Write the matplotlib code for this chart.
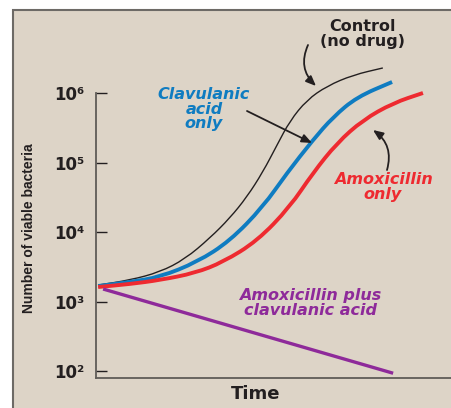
import numpy as np
import matplotlib
matplotlib.use("Agg")
import matplotlib.pyplot as plt
from matplotlib.patches import Rectangle, PathPatch
from matplotlib.path import Path
from matplotlib.ticker import FixedLocator, FuncFormatter

# Data (time in arbitrary units, counts per sample)
t_control = [0.06, 0.96, 1.80, 2.51, 3.21, 3.77, 4.25, 4.70, 5.10, 5.46, 5.94, 6.51, 7.24, 8.08]
n_control = [1726, 2037, 2655, 4093, 8204, 15890, 31920, 72950, 178600, 395500,
             793400, 1.262e6, 1.815e6, 2.291e6]

t_clav = [0.06, 0.96, 1.80, 2.85, 3.77, 4.70, 5.38, 6.11, 6.68, 7.35, 8.34]
n_clav = [1671, 1910, 2254, 3698, 7430, 22910, 70630, 210900, 451900, 875000, 1.439e6]

t_amox = [0.06, 0.96, 1.80, 2.79, 3.58, 4.54, 5.46, 6.11, 6.79, 7.52, 8.37, 9.21]
n_amox = [1618, 1786, 2037, 2570, 3698, 7430, 22910, 70630, 191000, 409300,
          717800, 1.0e6]

t_combo = [0.20, 8.37]
n_combo = [1514, 93]

y_ticks = [1e2, 1e3, 1e4, 1e5, 1e6]
sup = {2: "²", 3: "³", 4: "⁴", 5: "⁵", 6: "⁶"}

BG = "#ddd4c7"
BLACK = "#231f20"
BLUE = "#0f7cc1"
RED = "#ee2a30"
PURPLE = "#8e2a9a"


def smooth_curve(ax, t, n, **kw):
    # quadratic B-spline through the read points (drawn in data space, log y)
    t = np.asarray(t, float)
    n = np.asarray(n, float)
    mt = (t[:-1] + t[1:]) / 2
    mn = np.sqrt(n[:-1] * n[1:])
    verts = [(t[0], n[0]), (mt[0], mn[0])]
    codes = [Path.MOVETO, Path.LINETO]
    for i in range(1, len(t) - 1):
        verts += [(t[i], n[i]), (mt[i], mn[i])]
        codes += [Path.CURVE3, Path.CURVE3]
    verts.append((t[-1], n[-1]))
    codes.append(Path.LINETO)
    ax.add_patch(PathPatch(Path(verts, codes), facecolor="none", **kw))


W, H = 451, 408
fig = plt.figure(figsize=(W / 100, H / 100), dpi=100)
fig.patch.set_facecolor("white")

# beige panel with grey top/left border
fig.patches.append(Rectangle((13 / W, -0.1), 1.2, (H - 10) / H + 0.1,
                             transform=fig.transFigure, facecolor=BG,
                             edgecolor="#6d6a66", linewidth=1.5, zorder=-5))

ax = fig.add_axes([96 / W, 30 / H, 1 - 96 / W, 358 / H])
ax.set_zorder(2)
ax.set_facecolor("none")
ax.set_yscale("log")
ax.set_xlim(0, 10)
ax.set_ylim(10 ** 1.9, 10 ** 7.05)

smooth_curve(ax, t_control, n_control, edgecolor=BLACK, lw=1.0)
smooth_curve(ax, t_clav, n_clav, edgecolor=BLUE, lw=2.8, capstyle="butt")
smooth_curve(ax, t_amox, n_amox, edgecolor=RED, lw=2.8, capstyle="butt")
ax.plot(t_combo, n_combo, color=PURPLE, lw=2.4, solid_capstyle="butt")

for s in ["top", "right"]:
    ax.spines[s].set_visible(False)
ax.spines["left"].set_bounds(10 ** 1.9, 1e6)
ax.spines["left"].set_color("#5f5c58")
ax.spines["left"].set_linewidth(1.3)
ax.spines["bottom"].set_color("#5f5c58")
ax.spines["bottom"].set_linewidth(1.3)

ax.yaxis.set_major_locator(FixedLocator(y_ticks))
ax.yaxis.set_minor_locator(FixedLocator([]))
ax.yaxis.set_major_formatter(FuncFormatter(lambda v, p: "10" + sup[int(round(np.log10(v)))]))
ax.tick_params(axis="y", direction="in", length=8, width=1.0, color=BLACK, pad=8,
               labelsize=12)
for lab in ax.get_yticklabels():
    lab.set_fontweight("bold")
    lab.set_color(BLACK)
ax.set_xticks([])

fig.text(256 / W, 1 - 394 / H, "Time", ha="center", va="center", fontsize=13,
         fontweight="bold", color=BLACK)
fig.text(29 / W, 1 - 228 / H, "Number of viable bacteria", rotation=90,
         ha="center", va="center", fontsize=10, fontweight="bold", color=BLACK,
         family=["Liberation Sans", "DejaVu Sans"])


def fp(x, y):
    return (x, H - y)


txt = dict(xycoords="figure pixels", textcoords="figure pixels", fontweight="bold",
           ha="center", va="center", fontsize=11.5, linespacing=0.92)
arrow = dict(arrowstyle="-|>,head_length=0.6,head_width=0.25", color=BLACK, lw=1.3,
             shrinkA=0, shrinkB=0)

ax.annotate("Control\n(no drug)", xy=fp(363, 34), color=BLACK, **txt)
ax.annotate("", xy=fp(316, 86), xytext=fp(308, 45), xycoords="figure pixels",
            textcoords="figure pixels",
            arrowprops=dict(arrow, connectionstyle="arc3,rad=0.35"))

ax.annotate("Clavulanic\nacid\nonly", xy=fp(204, 109), color=BLUE, style="italic", **txt)
ax.annotate("", xy=fp(312, 143), xytext=fp(247, 111), xycoords="figure pixels",
            textcoords="figure pixels", arrowprops=arrow)

ax.annotate("Amoxicillin\nonly", xy=fp(383, 187), color=RED, style="italic", **txt)
ax.annotate("", xy=fp(373, 130), xytext=fp(387, 170), xycoords="figure pixels",
            textcoords="figure pixels",
            arrowprops=dict(arrow, connectionstyle="arc3,rad=0.35"))

ax.annotate("Amoxicillin plus\nclavulanic acid", xy=fp(310, 303), color=PURPLE,
            style="italic", **txt)

fig.savefig("out.png", dpi=100)
